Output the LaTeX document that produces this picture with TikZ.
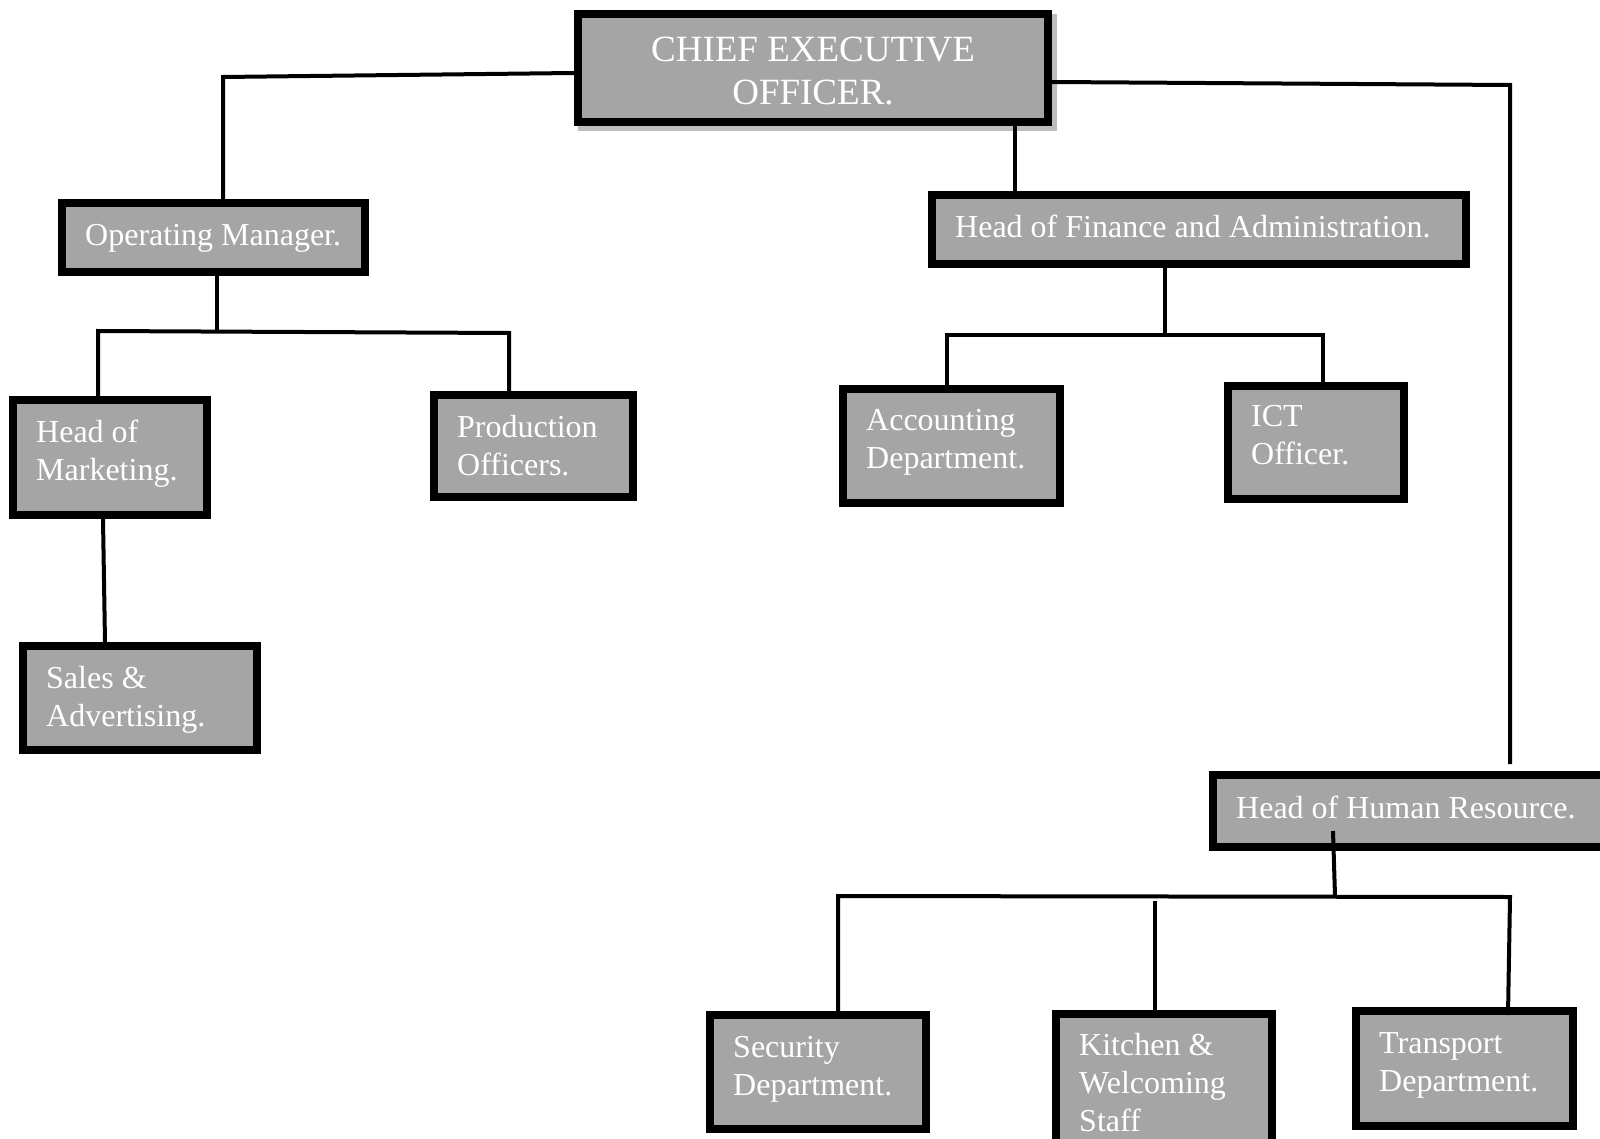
\documentclass[tikz,border=0pt]{standalone}
\usepackage{fontspec}
\setmainfont{Liberation Serif}
\usetikzlibrary{calc}
\definecolor{boxgray}{HTML}{A5A5A5}
\definecolor{shadowgray}{HTML}{BDBDBD}
\tikzset{
  orgbox/.style={draw=black, line width=8pt, fill=boxgray, inner sep=0pt, rectangle},
  txt/.style={text=white, inner sep=0pt, align=left, anchor=north west,
              font=\fontsize{32}{38}\selectfont},
  conn/.style={draw=black, line width=4pt}
}
\begin{document}
\begin{tikzpicture}[x=1pt,y=-1pt]
\useasboundingbox (0,0) rectangle (1600,1139);
\clip (0,0) rectangle (1600,1139);
\fill[white] (0,0) rectangle (1600,1139);

% CEO shadow
\fill[shadowgray] (578,14) rectangle (1057,131);

% boxes
\node[orgbox, minimum width=470pt, minimum height=108pt] (ceo) at (813,68) {};
\node[orgbox, minimum width=303pt, minimum height=69pt] (opm) at (213.5,237.5) {};
\node[orgbox, minimum width=534pt, minimum height=69pt] (fin) at (1199,229.5) {};
\node[orgbox, minimum width=194pt, minimum height=115pt] (mk) at (110,457.5) {};
\node[orgbox, minimum width=199pt, minimum height=102pt] (prod) at (533.5,446) {};
\node[orgbox, minimum width=217pt, minimum height=114pt] (acc) at (951.5,446) {};
\node[orgbox, minimum width=176pt, minimum height=113pt] (ict) at (1316,442.5) {};
\node[orgbox, minimum width=234pt, minimum height=104pt] (sales) at (140,698) {};
\node[orgbox, minimum width=413pt, minimum height=72pt] (hr) at (1419.5,811) {};
\node[orgbox, minimum width=216pt, minimum height=114pt] (sec) at (818,1072) {};
\node[orgbox, minimum width=216pt, minimum height=152pt] (kit) at (1164,1090) {};
\node[orgbox, minimum width=217pt, minimum height=115pt] (trans) at (1464.5,1068.5) {};

% texts
\node[txt, anchor=north, align=center, font=\fontsize{37}{43}\selectfont] (tceo) at ($(ceo.north)+(0,21.6)$) {\strut CHIEF EXECUTIVE\\OFFICER.};
\node[txt] (topm) at ($(opm.north west)+(27,19.4)$) {\strut Operating Manager.};
\node[txt] (tfin) at ($(fin.north west)+(27,19.4)$) {\strut Head of Finance and Administration.};
\node[txt] (tmk) at ($(mk.north west)+(27,19.4)$) {\strut Head of\\Marketing.};
\node[txt] (tprod) at ($(prod.north west)+(27,19.4)$) {\strut Production\\Officers.};
\node[txt] (tacc) at ($(acc.north west)+(27,18.4)$) {\strut Accounting\\Department.};
\node[txt] (tict) at ($(ict.north west)+(27,17.4)$) {\strut ICT\\Officer.};
\node[txt] (tsales) at ($(sales.north west)+(27,19.4)$) {\strut Sales \&\\Advertising.};
\node[txt] (thr) at ($(hr.north west)+(27,21)$) {\strut Head of Human Resource.};
\node[txt] (tsec) at ($(sec.north west)+(27,19.4)$) {\strut Security\\Department.};
\node[txt] (tkit) at ($(kit.north west)+(27,18.4)$) {\strut Kitchen \&\\Welcoming\\Staff};
\node[txt] (ttrans) at ($(trans.north west)+(27,19.4)$) {\strut Transport\\Department.};

% bus coordinates
\coordinate (cl) at (223,77);
\coordinate (cr) at (1510,85);
\coordinate (crend) at (1510,764);
\coordinate (b1l) at (98,331);
\coordinate (b1m) at (217,331);
\coordinate (b1r) at (509,333);
\coordinate (b2l) at (947,335);
\coordinate (b2m) at (1165,335);
\coordinate (b2r) at (1323,335);
\coordinate (b3l) at (838,896);
\coordinate (b3m) at (1335,896);
\coordinate (b3r) at (1510,897);
\coordinate (b3k) at (1155,901);

% connectors
\draw[conn] ($(ceo.west)+(0,5)$) -- (cl) -- ($(opm.north)+(9.5,0)$);
\draw[conn] ($(ceo.east)+(0,14)$) -- (cr) -- (crend);
\draw[conn] ($(ceo.south)+(202,-8)$) -- ($(fin.north)+(-184,0)$);

\draw[conn] ($(opm.south)+(3.5,0)$) -- (b1m);
\draw[conn] ($(mk.north)+(-12,0)$) -- (b1l) -- (b1r) -- ($(prod.north)+(-24.5,0)$);
\draw[conn] ($(mk.south)+(-7,0)$) -- ($(sales.north)+(-35,0)$);

\draw[conn] ($(fin.south)+(-34,0)$) -- (b2m);
\draw[conn] ($(acc.north)+(-4.5,0)$) -- (b2l) -- (b2r) -- ($(ict.north)+(7,0)$);

\draw[conn] ($(hr.south)+(-86.5,-20)$) -- (b3m);
\draw[conn] ($(sec.north)+(20,0)$) -- (b3l) -- (b3r) -- ($(trans.north)+(43.5,8)$);
\draw[conn] (b3k) -- ($(kit.north)+(-9,0)$);
\end{tikzpicture}
\end{document}
